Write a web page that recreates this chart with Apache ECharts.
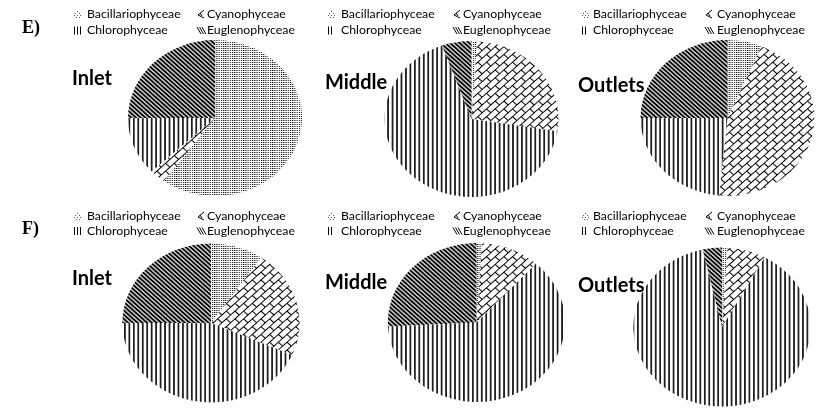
<!DOCTYPE html>
<html><head><meta charset="utf-8">
<script src="https://cdn.jsdelivr.net/npm/echarts@6/dist/echarts.min.js"></script>
<style>
html,body{margin:0;padding:0;background:#fff;overflow:hidden}
#wrap{position:relative;width:823px;height:412px;background:#fff}
#pies{position:absolute;left:0;top:0;width:738px;height:412px;transform:scaleX(1.11518);transform-origin:0 0}
#txt{position:absolute;left:0;top:0;width:823px;height:412px}
</style></head><body>
<div id="wrap"><div id="pies"></div><div id="txt"></div></div>
<script>
// ---- data ----
const categories = ['Bacillariophyceae', 'Cyanophyceae', 'Chlorophyceae', 'Euglenophyceae'];
const panelLetters = ['E)', 'F)'];
const sites = ['Inlet', 'Middle', 'Outlets'];
const E_inlet   = [60, 3, 12, 25];
const E_middle  = [1, 26.5, 67, 5.5];
const E_outlets = [6.4, 45.2, 23.4, 25];
const F_inlet   = [9.6, 22, 43.4, 25];
const F_middle  = [1, 10.7, 62.5, 25.8];
const F_outlets = [1, 7, 88.5, 3.5];

// ---- layout ----
const S = 823 / 738; // horizontal stretch of the pie layer (pies are slightly oval)
const pieLayout = [
  {v: E_inlet,   c: [215, 118],   r: 78},
  {v: E_middle,  c: [471.5, 119], r: 78},
  {v: E_outlets, c: [727.5, 118], r: 78},
  {v: F_inlet,   c: [211, 323],   r: 79.5},
  {v: F_middle,  c: [476.5, 322.5], r: 79.5},
  {v: F_outlets, c: [722, 327],   r: 79.5}
];

const brickPath = 'path://M0,0h11v1h-11z M0,5.5h11v1h-11z M0,0h1v5.5h-1z M5.5,5.5h1v5.5h-1z';
const vbarPath = 'path://M0,0h0.7v4h-0.7z M3.3,0h0.7v4h-0.7z';
const hbarPath = 'path://M0,0h3v0.85h-3z M0,2.15h3v0.85h-3z';
const decals = [
  {symbol: 'rect', symbolSize: 1, dashArrayX: [1, 1], dashArrayY: [1, 1], color: '#000'},
  {symbol: brickPath, symbolSize: 1, dashArrayX: [11, 0], dashArrayY: [11, 0], rotation: -Math.PI / 4, color: '#000'},
  {symbol: vbarPath, symbolSize: 1, dashArrayX: [4, 0], dashArrayY: [4, 0], color: '#000'},
  {symbol: hbarPath, symbolSize: 1, dashArrayX: [3, 0], dashArrayY: [3, 0], rotation: Math.PI / 4, color: '#000'}
];

const pieChart = echarts.init(document.getElementById('pies'), null, {renderer: 'svg'});
pieChart.setOption({
  animation: false,
  series: pieLayout.map(p => ({
    type: 'pie',
    center: [p.c[0] / S, p.c[1]],
    radius: p.r,
    startAngle: 90,
    clockwise: true,
    silent: true,
    label: {show: false},
    labelLine: {show: false},
    itemStyle: {borderWidth: 0},
    data: categories.map((n, i) => ({
      name: n, value: p.v[i],
      itemStyle: {color: '#fff', borderWidth: 0, decal: decals[i]}
    }))
  }))
});

// ---- text layer ----
const FONT = 'Lato, "Open Sans", sans-serif';
const legendX = [[74, 87, 197, 207], [328, 341, 453, 463], [582, 593, 705, 717]];
const legendRowY = [[14, 30.5], [216, 231]];
const siteLabelPos = [[[72, 79], [325, 83], [578, 86]], [[72, 279], [325, 283], [578, 286]]];
const letterPos = [[22, 28], [22, 229]];

function iconBac(x, y) {
  const pts = [[3,0],[1,2],[5,2],[0,4],[3,4],[6,4],[2,6],[5,6]];
  return {type: 'group', x: x, y: y - 3, children: pts.map(q => ({type: 'rect', shape: {x: q[0], y: q[1], width: 1, height: 1}, style: {fill: '#555'}}))};
}
function iconCyan(x, y) {
  return {type: 'group', x: x, y: y - 4, children: [
    {type: 'polyline', shape: {points: [[7, 0], [1, 5], [7, 8]]}, style: {stroke: '#000', lineWidth: 1, fill: null}},
    {type: 'line', shape: {x1: 3, y1: 3, x2: 5, y2: 6}, style: {stroke: '#000', lineWidth: 1}}
  ]};
}
function iconChl(x, y, n) {
  const ch = [];
  for (let k = 0; k < n; k++) ch.push({type: 'rect', shape: {x: k * 3, y: 0, width: 1, height: 8}, style: {fill: '#000'}});
  return {type: 'group', x: x, y: y - 4, children: ch};
}
function iconEug(x, y) {
  const ch = [];
  for (let k = 0; k < 3; k++) ch.push({type: 'line', shape: {x1: k * 2.5, y1: 0, x2: k * 2.5 + 4, y2: 7}, style: {stroke: '#000', lineWidth: 1}});
  return {type: 'group', x: x, y: y - 3.5, children: ch};
}
function txt(x, y, s, font, align) {
  return {type: 'text', x: x, y: y, style: {text: s, font: font, fill: '#000', textAlign: align || 'left', textVerticalAlign: 'middle', verticalAlign: 'middle'}};
}

const g = [];
for (let r = 0; r < 2; r++) {
  g.push(txt(letterPos[r][0], letterPos[r][1], panelLetters[r], 'bold 18px "Liberation Serif", "Times New Roman", serif'));
  for (let c = 0; c < 3; c++) {
    const lx = legendX[c], ry = legendRowY[r];
    g.push(iconBac(lx[0], ry[0]));
    g.push(txt(lx[1], ry[0], categories[0], '12.3px ' + FONT));
    g.push(iconCyan(lx[2], ry[0]));
    g.push(txt(lx[3], ry[0], categories[1], '12.3px ' + FONT));
    g.push(iconChl(lx[0], ry[1], c === 0 ? 3 : 2));
    g.push(txt(lx[1], ry[1], categories[2], '12.3px ' + FONT));
    g.push(iconEug(lx[2], ry[1]));
    g.push(txt(lx[3], ry[1], categories[3], '12.3px ' + FONT));
    const sp = siteLabelPos[r][c];
    g.push(txt(sp[0], sp[1], sites[c], 'bold 20px ' + FONT));
  }
}
const txtChart = echarts.init(document.getElementById('txt'), null, {renderer: 'canvas'});
txtChart.setOption({animation: false, graphic: {elements: g}});
</script>
</body></html>
